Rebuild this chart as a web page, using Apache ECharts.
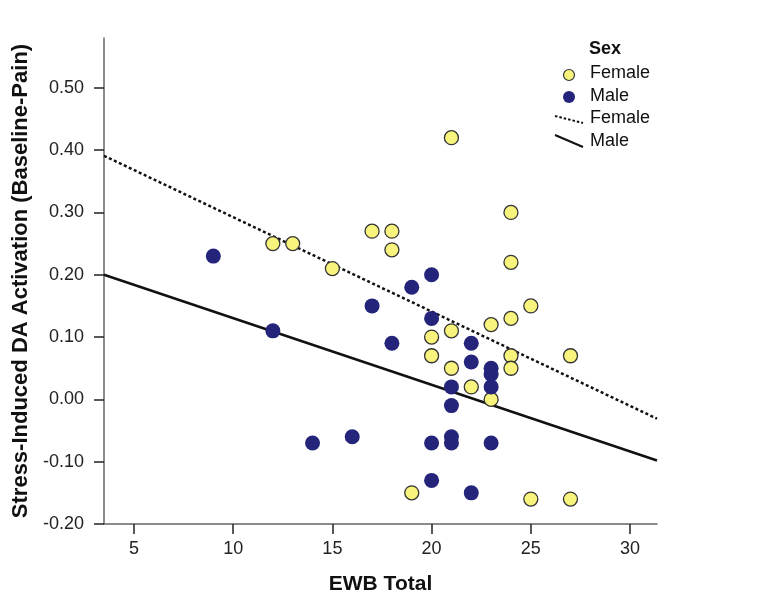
<!DOCTYPE html>
<html>
<head>
<meta charset="utf-8">
<script src="https://cdn.jsdelivr.net/npm/echarts@6/dist/echarts.min.js"></script>
<style>
  html, body { margin: 0; padding: 0; background: #fff; }
  #chart { width: 765px; height: 602px; }
</style>
</head>
<body>
<div id="chart"></div>
<script>
// EWB total (x) vs stress-induced DA activation (y)
const femalePoints = [
  [12, 0.25], [13, 0.25], [15, 0.21], [17, 0.27], [18, 0.27], [18, 0.24],
  [21, 0.42], [24, 0.30], [24, 0.22], [25, 0.15], [24, 0.13], [23, 0.12],
  [21, 0.11], [20, 0.10], [20, 0.07], [24, 0.07], [27, 0.07], [21, 0.05],
  [24, 0.05], [22, 0.02], [23, 0.00], [19, -0.15], [25, -0.16], [27, -0.16]
]
const malePoints = [
  [9, 0.23], [12, 0.11], [14, -0.07], [16, -0.06], [17, 0.15], [18, 0.09],
  [19, 0.18], [20, 0.20], [20, 0.13], [22, 0.09], [22, 0.06], [23, 0.05],
  [23, 0.04], [21, 0.02], [23, 0.02], [21, -0.01], [21, -0.06], [21, -0.07],
  [20, -0.07], [23, -0.07], [20, -0.13], [22, -0.15]
]
// fit lines (end points read at the plot edges)
const femaleFit = [[3.49, 0.391], [31.36, -0.031]]
const maleFit = [[3.49, 0.200], [31.36, -0.098]]

const xTicks = [5, 10, 15, 20, 25, 30]
const yTicks = [-0.2, -0.1, 0, 0.1, 0.2, 0.3, 0.4, 0.5]

const FONT = '"Liberation Sans", Arial, sans-serif'
const YELLOW = '#f7f37c'
const NAVY = '#25247b'

const chart = echarts.init(document.getElementById('chart'))

const option = {
  animation: false,
  backgroundColor: '#fff',
  textStyle: { fontFamily: FONT },
  grid: { left: 104, top: 38, right: 108, bottom: 78 },
  xAxis: {
    type: 'value',
    min: 3.49,
    max: 31.36,
    name: 'EWB Total',
    nameLocation: 'middle',
    nameGap: 50,
    nameTextStyle: { fontSize: 21, fontWeight: 'bold', color: '#111', fontFamily: FONT },
    splitLine: { show: false },
    axisLine: { onZero: false, lineStyle: { color: '#666', width: 1.5 } },
    axisTick: { customValues: xTicks, length: 10, lineStyle: { color: '#222', width: 1.5 } },
    axisLabel: { customValues: xTicks, fontSize: 18, color: '#222', margin: 16, fontFamily: FONT }
  },
  yAxis: {
    type: 'value',
    min: -0.2,
    max: 0.58,
    name: 'Stress-Induced DA Activation (Baseline-Pain)',
    nameLocation: 'middle',
    nameGap: 72,
    nameTextStyle: { fontSize: 22, fontWeight: 'bold', color: '#111', fontFamily: FONT },
    splitLine: { show: false },
    axisLine: { show: true, onZero: false, lineStyle: { color: '#666', width: 1.5 } },
    axisTick: { show: true, customValues: yTicks, length: 10, lineStyle: { color: '#222', width: 1.5 } },
    axisLabel: {
      customValues: yTicks, fontSize: 18, color: '#222', margin: 20, fontFamily: FONT,
      formatter: v => v.toFixed(2)
    }
  },
  series: [
    {
      name: 'Female fit',
      type: 'line',
      data: femaleFit,
      symbol: 'none',
      lineStyle: { color: '#111', width: 2.5, type: [3, 2.5] },
      z: 1
    },
    {
      name: 'Male fit',
      type: 'line',
      data: maleFit,
      symbol: 'none',
      lineStyle: { color: '#111', width: 2.5 },
      z: 1
    },
    {
      name: 'Female',
      type: 'scatter',
      data: femalePoints,
      symbolSize: 14,
      itemStyle: { color: YELLOW, borderColor: '#333', borderWidth: 1.3, opacity: 1 },
      z: 3
    },
    {
      name: 'Male',
      type: 'scatter',
      data: malePoints,
      symbolSize: 15,
      itemStyle: { color: NAVY, opacity: 1 },
      z: 3
    }
  ],
  // legend drawn by hand: the line keys are slanted like the original
  graphic: [
    { type: 'text', left: 589, top: 40, style: { text: 'Sex', font: 'bold 18px ' + FONT, fill: '#111' } },
    { type: 'circle', shape: { cx: 569, cy: 75, r: 5.5 }, style: { fill: YELLOW, stroke: '#333', lineWidth: 1.2 } },
    { type: 'text', left: 590, top: 64, style: { text: 'Female', font: '18px ' + FONT, fill: '#111' } },
    { type: 'circle', shape: { cx: 569, cy: 97, r: 6 }, style: { fill: NAVY } },
    { type: 'text', left: 590, top: 87, style: { text: 'Male', font: '18px ' + FONT, fill: '#111' } },
    { type: 'line', shape: { x1: 555, y1: 116, x2: 583, y2: 123 }, style: { stroke: '#111', lineWidth: 2, lineDash: [2.5, 2] } },
    { type: 'text', left: 590, top: 109, style: { text: 'Female', font: '18px ' + FONT, fill: '#111' } },
    { type: 'line', shape: { x1: 555, y1: 135, x2: 583, y2: 147 }, style: { stroke: '#111', lineWidth: 2 } },
    { type: 'text', left: 590, top: 132, style: { text: 'Male', font: '18px ' + FONT, fill: '#111' } }
  ]
}

chart.setOption(option)
</script>
</body>
</html>
